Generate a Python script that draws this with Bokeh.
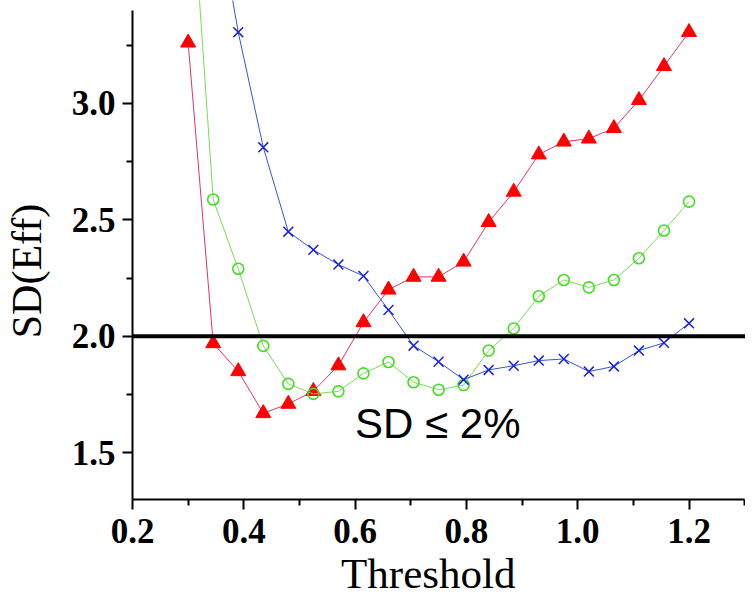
from bokeh.plotting import figure
from bokeh.models import Span, Label, FixedTicker, Range1d
from bokeh.embed import file_html
from bokeh.resources import INLINE

# Data
threshold = [0.3, 0.345, 0.39, 0.435, 0.48, 0.525, 0.57, 0.615, 0.66, 0.705, 0.75,
             0.795, 0.84, 0.885, 0.93, 0.975, 1.02, 1.065, 1.11, 1.155, 1.2]
sd_red = [3.26, 1.97, 1.85, 1.67, 1.71, 1.765, 1.875, 2.06, 2.20, 2.255, 2.255,
          2.32, 2.49, 2.62, 2.78, 2.835, 2.848, 2.893, 3.013, 3.159, 3.305]
sd_green = [4.15, 2.587, 2.29, 1.959, 1.796, 1.753, 1.764, 1.841, 1.89, 1.803, 1.771,
            1.791, 1.939, 2.034, 2.172, 2.242, 2.21, 2.242, 2.335, 2.454, 2.578]
threshold_blue = threshold[1:]
sd_blue = [3.92, 3.305, 2.811, 2.449, 2.371, 2.308, 2.259, 2.113, 1.960, 1.891,
           1.814, 1.856, 1.874, 1.896, 1.903, 1.849, 1.871, 1.939, 1.972, 2.056]
limit = 2.0
x_ticks = [0.2, 0.4, 0.6, 0.8, 1.0, 1.2]
y_ticks = [1.5, 2.0, 2.5, 3.0]

p = figure(width=745, height=600, output_backend="svg", toolbar_location=None,
           x_range=Range1d(0.2, 1.3015), y_range=Range1d(1.3, 3.441),
           min_border_left=132, min_border_right=0, min_border_top=0,
           min_border_bottom=101)
p.outline_line_color = None
p.xgrid.visible = False
p.ygrid.visible = False
p.background_fill_color = "white"

# lines + markers
p.line(threshold, sd_red, line_color="#e8306a", line_width=1)
p.scatter(threshold, sd_red, marker="triangle", size=15, fill_color="#ff0000",
          line_color="#ff0000")
p.line(threshold, sd_green, line_color="#77dd55", line_width=1)
p.scatter(threshold, sd_green, marker="circle", size=11, fill_color=None,
          line_color="#44dd22", line_width=1.6)
p.line(threshold_blue, sd_blue, line_color="#3355dd", line_width=1)
p.scatter(threshold_blue, sd_blue, marker="x", size=14, line_color="#1a22dd",
          line_width=1.5)

p.add_layout(Span(location=limit, dimension="width", line_color="black", line_width=4))
p.add_layout(Label(x=0.6, y=1.625, text="SD \u2264 2%", text_font="Liberation Sans",
                   text_font_size="42px", text_baseline="alphabetic", text_color="black"))

for ax in (p.xaxis[0], p.yaxis[0]):
    ax.axis_line_width = 2
    ax.axis_line_color = "black"
    ax.major_tick_line_width = 2
    ax.minor_tick_line_width = 2
    ax.major_tick_out = 10
    ax.major_tick_in = 0
    ax.minor_tick_out = 6
    ax.minor_tick_in = 0
    ax.major_label_text_font = "Liberation Serif"
    ax.major_label_text_font_style = "bold"
    ax.major_label_text_font_size = "35px"
    ax.major_label_text_color = "black"
    ax.axis_label_text_font = "Liberation Serif"
    ax.axis_label_text_font_style = "normal"
    ax.axis_label_text_color = "black"

p.xaxis.ticker = FixedTicker(ticks=x_ticks, minor_ticks=[0.3, 0.5, 0.7, 0.9, 1.1, 1.3])
p.yaxis.ticker = FixedTicker(ticks=y_ticks, minor_ticks=[1.75, 2.25, 2.75, 3.25])
p.xaxis.bounds = (0.2, 1.3)
p.yaxis.bounds = (1.3, 3.4)
p.xaxis.major_label_overrides = {t: f"{t:.1f}" for t in x_ticks}
p.yaxis.major_label_overrides = {t: f"{t:.1f}" for t in y_ticks}
p.xaxis.axis_label = "Threshold\u00a0\u00a0"
p.yaxis.axis_label = "SD(Eff)\u00a0\u00a0\u00a0\u00a0"
p.xaxis.axis_label_text_font_size = "43px"
p.yaxis.axis_label_text_font_size = "42px"
p.xaxis.major_label_standoff = 9
p.yaxis.major_label_standoff = 7
p.xaxis.axis_label_standoff = 4
p.yaxis.axis_label_standoff = 19

open("out.html", "w").write(file_html(p, INLINE))
